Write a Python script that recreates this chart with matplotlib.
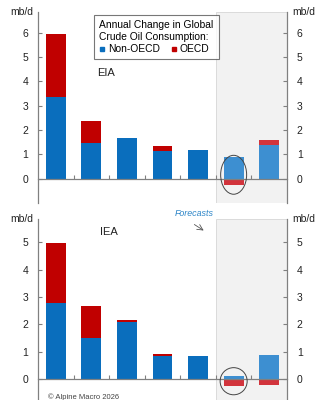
import numpy as np
import matplotlib.pyplot as plt
from matplotlib.patches import Ellipse
from matplotlib.lines import Line2D

plt.rcParams["font.family"] = ["Liberation Sans", "DejaVu Sans"]

# annual change in global crude oil consumption, mb/d
eia_non_oecd = [3.35, 1.47, 1.66, 1.14, 1.19, 0.89, 1.37]
eia_oecd = [2.60, 0.88, 0.02, 0.22, -0.03, -0.25, 0.23]
iea_non_oecd = [2.78, 1.51, 2.09, 0.84, 0.84, 0.11, 0.88]
iea_oecd = [2.21, 1.18, 0.09, 0.08, 0.00, -0.24, -0.19]
n_forecast = 2

BLUE = ["#0a6ebd"] * 5 + ["#3d8fd1"] * n_forecast
RED = ["#c00000"] * 5 + ["#d2343c"] * n_forecast
GRAY = "#808080"

fig = plt.figure(figsize=(3.24, 4.0), dpi=100)
W, H = 324, 400


def px_axes(left, top, right, bottom):
    return fig.add_axes([left / W, 1 - bottom / H, (right - left) / W, (bottom - top) / H])


ax1 = px_axes(38, 12, 287, 203)
ax2 = px_axes(38, 219, 287, 406.7)


def draw_panel(ax, non_oecd, oecd, ylim, yticks, name, name_xy):
    non_oecd = np.array(non_oecd)
    oecd = np.array(oecd)
    x = np.arange(len(non_oecd))
    ax.axvspan(4.5, 6.5, facecolor="#f2f2f2", edgecolor="#d6d6d6", lw=0.6, zorder=0)
    ax.bar(x, non_oecd, width=0.56, color=BLUE, zorder=2)
    bottoms = np.where(oecd >= 0, non_oecd, 0)
    ax.bar(x, oecd, width=0.56, bottom=bottoms, color=RED, zorder=2)

    ax.set_xlim(-0.5, 6.5)
    ax.set_ylim(*ylim)
    ax.set_yticks(yticks)
    ax.set_xticks([])
    ax.set_xticks(np.arange(0.5, 6.5, 1), minor=True)
    ax.tick_params(axis="x", which="minor", direction="in", length=3, color=GRAY, width=0.8)
    ax.tick_params(axis="y", direction="in", length=3, color=GRAY, width=0.8,
                   left=True, right=True, labelleft=True, labelright=True,
                   labelsize=7.5, pad=7, labelcolor="#222222")

    ax.spines["top"].set_visible(False)
    ax.spines["bottom"].set_position(("data", 0))
    for side in ["left", "right", "bottom"]:
        ax.spines[side].set_color(GRAY)
        ax.spines[side].set_linewidth(0.9)
    ax.patch.set_alpha(0)

    ax.text(-0.02, 1.0, "mb/d", transform=ax.transAxes, ha="right", va="center",
            fontsize=7.5, color="#222222")
    ax.text(1.02, 1.0, "mb/d", transform=ax.transAxes, ha="left", va="center",
            fontsize=7.5, color="#222222")
    ax.text(name_xy[0], name_xy[1], name, transform=ax.transAxes, fontsize=8,
            color="#222222", ha="left", va="center")


draw_panel(ax1, eia_non_oecd, eia_oecd, (-1, 6.85), range(0, 7), "EIA", (0.238, 0.68))
draw_panel(ax2, iea_non_oecd, iea_oecd, (-1, 5.85), range(0, 6), "IEA", (0.25, 0.93))

# circled forecast years with an OECD decline
ax1.add_patch(Ellipse((5.0, 0.16), 0.73, 1.6, fill=False, edgecolor="#444444", lw=0.7, zorder=3))
ax2.add_patch(Ellipse((5.0, -0.07), 0.76, 0.99, fill=False, edgecolor="#444444", lw=0.7, zorder=3))

handles = [
    Line2D([], [], marker="s", linestyle="none", markersize=3.5, color=BLUE[0]),
    Line2D([], [], marker="s", linestyle="none", markersize=3.5, color=RED[0]),
]
leg = ax1.legend(handles, ["Non-OECD", "OECD"], ncol=2,
                 title="Annual Change in Global\nCrude Oil Consumption:",
                 title_fontsize=7.4, fontsize=7.4, alignment="left",
                 loc="upper left", bbox_to_anchor=(0.225, 0.984), borderaxespad=0,
                 frameon=True, fancybox=False, edgecolor="#555555",
                 handlelength=0.6, handletextpad=0.25, columnspacing=1.1,
                 borderpad=0.5, labelspacing=0.2)
leg.get_frame().set_linewidth(0.8)
leg.get_title().set_linespacing(1.25)

fig.text(175 / W, 1 - 214 / H, "Forecasts", fontsize=6.4, style="italic",
         color="#2e86c8", ha="left", va="center")
fig.add_artist(plt.Annotation("", xy=(206 / W, 1 - 232 / H), xytext=(192 / W, 1 - 223 / H),
                              xycoords="figure fraction", textcoords="figure fraction",
                              arrowprops=dict(arrowstyle="->", color="#555555", lw=0.6)))

fig.text(48 / W, 1 - 397 / H, "© Alpine Macro 2026", fontsize=5.5, color="#444444",
         ha="left", va="center")

fig.savefig("out.png", dpi=100)
